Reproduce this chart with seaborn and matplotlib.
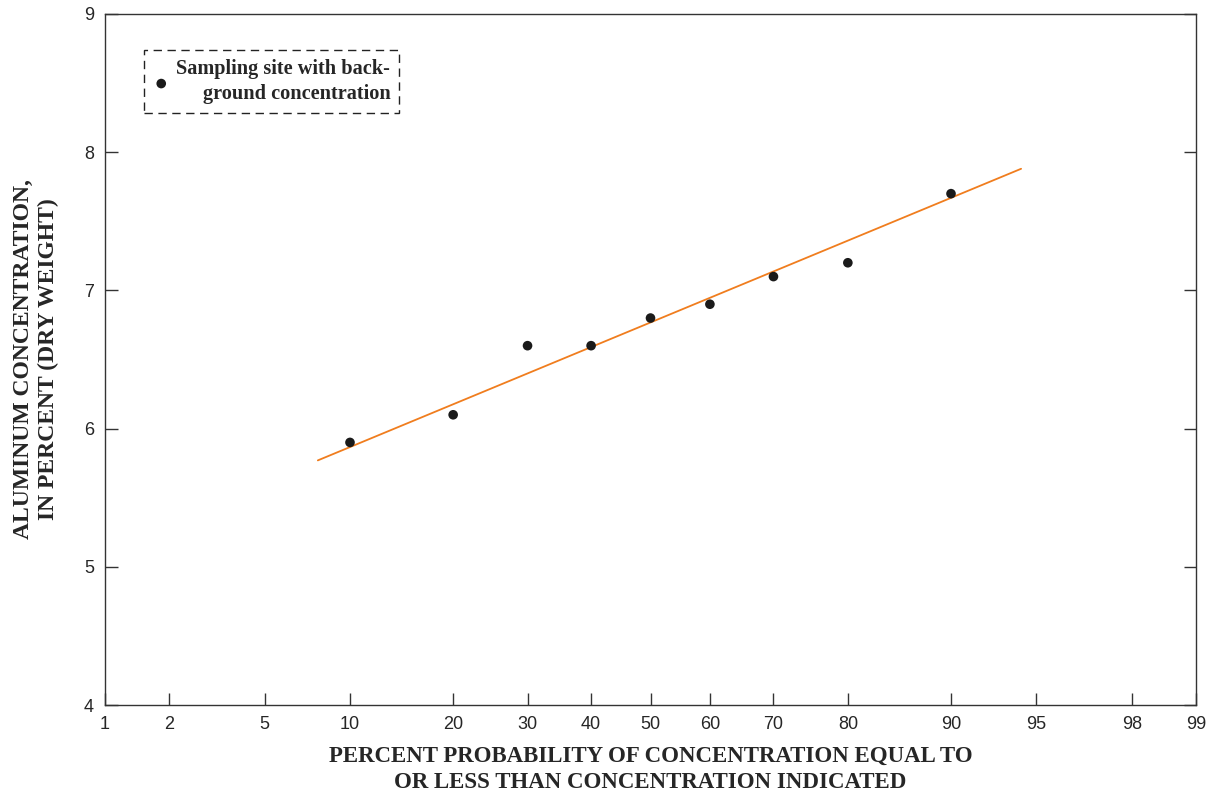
import numpy as np
import matplotlib.pyplot as plt
import seaborn as sns
import pandas as pd
from statistics import NormalDist

# sampled sites: percent probability vs aluminum concentration
probability = [10, 20, 30, 40, 50, 60, 70, 80, 90]
concentration = [5.9, 6.1, 6.6, 6.6, 6.8, 6.9, 7.1, 7.2, 7.7]

# fitted line end points
line_prob = [7.8, 94.3]
line_conc = [5.77, 7.88]

x_ticks = [1, 2, 5, 10, 20, 30, 40, 50, 60, 70, 80, 90, 95, 98, 99]
y_ticks = [4, 5, 6, 7, 8, 9]

nd = NormalDist()
_ppf = np.vectorize(lambda v: nd.inv_cdf(v / 100.0), otypes=[float])
_cdf = np.vectorize(lambda v: nd.cdf(v) * 100.0, otypes=[float])


def fwd(p):
    p = np.clip(np.asarray(p, dtype=float), 1e-6, 100 - 1e-6)
    return _ppf(p)


def inv(z):
    return _cdf(np.asarray(z, dtype=float))


sns.set_style("ticks")
plt.rcParams['font.family'] = ['Liberation Sans', 'DejaVu Sans']

df = pd.DataFrame({'prob': probability, 'conc': concentration})
fit = pd.DataFrame({'prob': line_prob, 'conc': line_conc})

fig = plt.figure(figsize=(12.15, 7.92), dpi=100)
ax = fig.add_axes([105 / 1215, 1 - 705 / 792, 1091 / 1215, 691 / 792])
ax.set_xscale('function', functions=(fwd, inv))

sns.lineplot(data=fit, x='prob', y='conc', color='#f07d1e', linewidth=1.3, sort=False, ax=ax)
sns.scatterplot(data=df, x='prob', y='conc', color='#1a1a1a', s=48, edgecolor='none',
                label='Sampling site with back-\nground concentration', ax=ax, zorder=3)

ax.set_xlim(1, 99)
ax.set_ylim(4, 9)
ax.set_xticks(x_ticks)
ax.set_xticklabels([str(t) for t in x_ticks])
ax.set_yticks(y_ticks)
ax.minorticks_off()
ax.tick_params(direction='in', length=9, width=1, color='#333333', labelsize=13,
               right=True, top=False)
ax.tick_params(axis='x', pad=8)
ax.tick_params(axis='y', pad=8)
for s in ax.spines.values():
    s.set_visible(True)
    s.set_linewidth(1.0)
    s.set_color('#333333')

serif = ['Liberation Serif', 'DejaVu Serif']
ax.set_xlabel('PERCENT PROBABILITY OF CONCENTRATION EQUAL TO\nOR LESS THAN CONCENTRATION INDICATED',
              family=serif, fontweight='bold', fontsize=16.5, labelpad=9, linespacing=1.36)
ax.set_ylabel('ALUMINUM CONCENTRATION,\nIN PERCENT (DRY WEIGHT)',
              family=serif, fontweight='bold', fontsize=17, labelpad=18, linespacing=1.22)

leg = ax.legend(loc='upper left', bbox_to_anchor=(39 / 1091, (705 - 50) / 691), borderaxespad=0,
                frameon=True, fancybox=False, handletextpad=0.35, handlelength=0.8,
                borderpad=0.45, prop={'family': serif, 'weight': 'bold', 'size': 14.6})
frame = leg.get_frame()
frame.set_linestyle((0, (6, 4)))
frame.set_edgecolor('#222222')
frame.set_linewidth(1.0)
frame.set_facecolor('white')
frame.set_alpha(1)
for t in leg.get_texts():
    t.set_multialignment('right')
    t.set_linespacing(1.3)

plt.savefig('out.png', dpi=100)
